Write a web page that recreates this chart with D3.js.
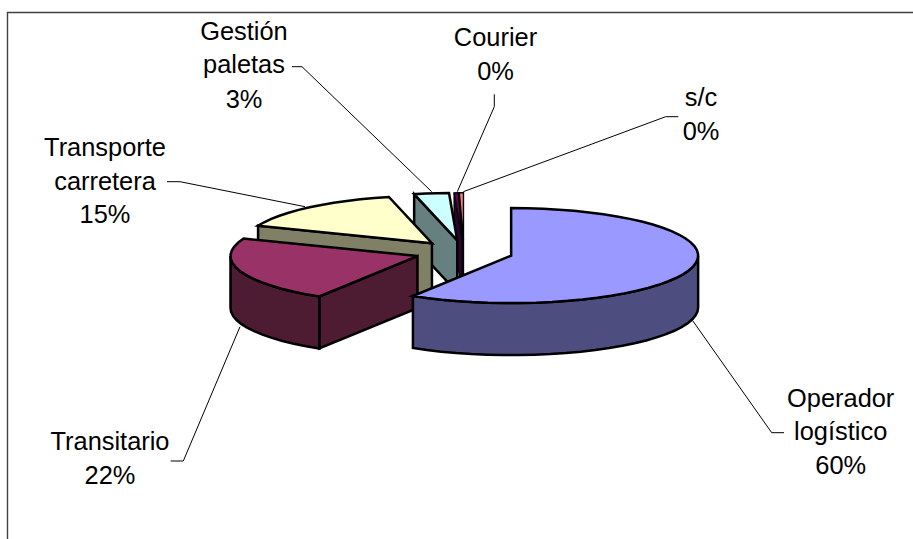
<!DOCTYPE html>
<html>
<head>
<meta charset="utf-8">
<script src="https://cdn.jsdelivr.net/npm/d3@7/dist/d3.min.js"></script>
<style>
html,body{margin:0;padding:0;background:#fff;overflow:hidden}
svg{display:block}
text{font-family:"Liberation Sans",Arial,sans-serif;font-size:25.4px;fill:#000;text-anchor:middle}
</style>
</head>
<body>
<svg id="chart" width="913" height="539"></svg>
<script>
const categories = ["Operador logístico","Transitario","Transporte carretera","Gestión paletas","Courier","s/c"];
const values = [58.8,22.2,15.3,3.0,0.35,0.35];
const percentLabels = ["60%","22%","15%","3%","0%","0%"];
const topColors = ["#9999ff","#993366","#ffffcc","#ccffff","#660066","#ff8080"];
const sideColors = ["#4d4d80","#4d1a33","#808066","#668080","#330033","#804040"];

// label layout: text lines with centre x and baselines; leader polylines
const labelLines = [["Operador","logístico"],["Transitario"],["Transporte","carretera"],["Gestión","paletas"],["Courier"],["s/c"]];
const labelX = [840.7,110,105,244,495.5,701];
const labelY = [[407,440,474],[450,484],[156,190,223],[40,73,108],[46,80],[106,140]];
const leaders = [
  [[784,432.7],[771.7,432.7],[692.7,320.7]],
  [[170.7,461],[183.3,461],[240,326.7]],
  [[167,181.7],[180,181.7],[305,206.7]],
  [[292,66.7],[302,66.7],[431.7,191.7]],
  [[494.3,94.3],[494.3,106.7],[457.3,191.7]],
  [[678.3,116.7],[665.7,116.7],[463.3,191.7]]
];

const W=913,H=539;
const cx=464,cy=252.3,depth=52;
const sx=d3.scaleLinear().domain([-1,1]).range([-187,187]);
const sy=d3.scaleLinear().domain([-1,1]).range([-47.5,47.5]);
const ex=d3.scaleLinear().domain([-1,1]).range([-49,49]);
const ey=d3.scaleLinear().domain([-1,1]).range([-12,12]);
const line=d3.line();
const TAU=Math.PI*2;

const svg=d3.select("#chart");
svg.append("defs").append("filter").attr("id","soft").append("feGaussianBlur").attr("stdDeviation",0.3);

svg.append("path")
  .attr("d",`M${W},12.5H7.5V${H}`)
  .attr("fill","none").attr("stroke","#404040").attr("stroke-width",1.4);

const pie=d3.pie().sort(null).startAngle(0).endAngle(TAU)(values);

function arcPts(a0,a1,ox,oy,dz){
  const n=Math.max(1,Math.ceil((a1-a0)/(5*Math.PI/180)));
  return d3.range(n+1).map(i=>{
    const a=a0+(a1-a0)*i/n;
    return [ox+sx(Math.sin(a)),oy+sy(-Math.cos(a))+dz];
  });
}

const pieG=svg.append("g").attr("filter","url(#soft)");
// back to front: tiny slices, then counter-clockwise round to the largest
const order=d3.range(pie.length).reverse();
order.forEach(i=>{
  const d=pie[i];
  const mid=(d.startAngle+d.endAngle)/2;
  const ox=cx+ex(Math.sin(mid)), oy=cy+ey(-Math.cos(mid));
  const sw=i>=4?1.4:2.5;
  const style=(s,fill)=>s.attr("fill",fill).attr("stroke","#000").attr("stroke-width",sw).attr("stroke-linejoin","miter");
  const g=pieG.append("g").attr("class","slice");
  // radial wall on the starting edge, when that edge faces the viewer
  if(Math.sin(d.startAngle)<0){
    const p=arcPts(d.startAngle,d.startAngle,ox,oy,0)[0];
    const wall=[[ox,oy],p,[p[0],p[1]+depth],[ox,oy+depth]];
    g.append("path").attr("d",line(wall)+"Z").call(style,sideColors[i]);
  }
  // outer rim wall on the front half of the ellipse
  const f0=Math.max(d.startAngle,Math.PI/2), f1=Math.min(d.endAngle,3*Math.PI/2);
  if(f1>f0){
    const t=arcPts(f0,f1,ox,oy,0), b=arcPts(f0,f1,ox,oy,depth).reverse();
    g.append("path").attr("d",line(t.concat(b))+"Z").call(style,sideColors[i]);
  }
  // top face
  const top=[[ox,oy]].concat(arcPts(d.startAngle,d.endAngle,ox,oy,0));
  g.append("path").attr("d",line(top)+"Z").call(style,topColors[i]);
});

categories.forEach((c,i)=>{
  svg.append("path").attr("d",line(leaders[i])).attr("fill","none").attr("stroke","#000").attr("stroke-width",1);
  const lines=labelLines[i].concat(percentLabels[i]);
  lines.forEach((t,j)=>svg.append("text").attr("x",labelX[i]).attr("y",labelY[i][j]).text(t));
});
</script>
</body>
</html>
